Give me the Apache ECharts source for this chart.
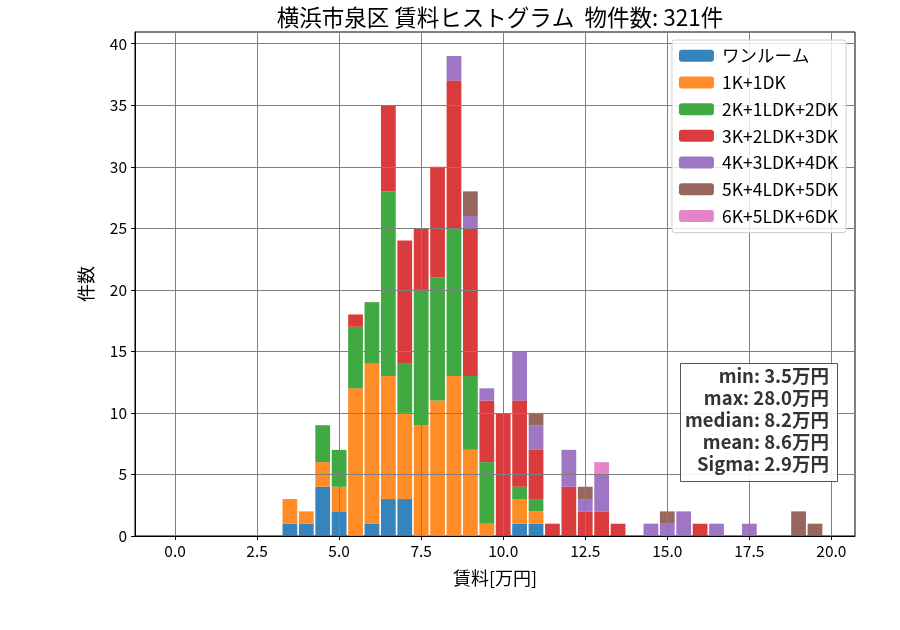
<!DOCTYPE html>
<html>
<head>
<meta charset="utf-8">
<script src="https://cdn.jsdelivr.net/npm/echarts@6/dist/echarts.min.js"></script>
<style>
  html, body { margin: 0; padding: 0; background: #fff; }
  #chart { width: 900px; height: 630px; }
</style>
</head>
<body>
<div id="chart"></div>
<script>
// 賃料の階級（万円）— 0.5刻みの中心値
var binCenters = [3.5, 4.0, 4.5, 5.0, 5.5, 6.0, 6.5, 7.0, 7.5, 8.0, 8.5, 9.0, 9.5, 10.0, 10.5, 11.0,
  11.5, 12.0, 12.5, 13.0, 13.5, 14.0, 14.5, 15.0, 15.5, 16.0, 16.5, 17.0, 17.5, 18.0, 18.5, 19.0, 19.5];

// 間取りごとの件数（binCenters と同じ順番）
var oneRoom = [1, 1, 4, 2, 0, 1, 3, 3, 0, 0, 0, 0, 0, 0, 1, 1, 0, 0, 0, 0, 0, 0, 0, 0, 0, 0, 0, 0, 0, 0, 0, 0, 0];
var k1 = [2, 1, 2, 2, 12, 13, 10, 7, 9, 11, 13, 7, 1, 0, 2, 1, 0, 0, 0, 0, 0, 0, 0, 0, 0, 0, 0, 0, 0, 0, 0, 0, 0];
var k2 = [0, 0, 3, 3, 5, 5, 15, 4, 11, 10, 12, 6, 5, 0, 1, 1, 0, 0, 0, 0, 0, 0, 0, 0, 0, 0, 0, 0, 0, 0, 0, 0, 0];
var k3 = [0, 0, 0, 0, 1, 0, 7, 10, 5, 9, 12, 12, 5, 10, 7, 4, 1, 4, 2, 2, 1, 0, 0, 0, 0, 1, 0, 0, 0, 0, 0, 0, 0];
var k4 = [0, 0, 0, 0, 0, 0, 0, 0, 0, 0, 2, 1, 1, 0, 4, 2, 0, 3, 1, 3, 0, 0, 1, 1, 2, 0, 1, 0, 1, 0, 0, 0, 0];
var k5 = [0, 0, 0, 0, 0, 0, 0, 0, 0, 0, 0, 2, 0, 0, 0, 1, 0, 0, 1, 0, 0, 0, 0, 1, 0, 0, 0, 0, 0, 0, 0, 2, 1];
var k6 = [0, 0, 0, 0, 0, 0, 0, 0, 0, 0, 0, 0, 0, 0, 0, 0, 0, 0, 0, 1, 0, 0, 0, 0, 0, 0, 0, 0, 0, 0, 0, 0, 0];

var seriesNames = ['ワンルーム', '1K+1DK', '2K+1LDK+2DK', '3K+2LDK+3DK', '4K+3LDK+4DK', '5K+4LDK+5DK', '6K+5LDK+6DK'];
var seriesValues = [oneRoom, k1, k2, k3, k4, k5, k6];
var colors = ['#1f77b4', '#ff7f0e', '#2ca02c', '#d62728', '#9467bd', '#8c564b', '#e377c2'];

// 目盛り
var xTicks = [0, 2.5, 5, 7.5, 10, 12.5, 15, 17.5, 20];
var yTicks = [0, 5, 10, 15, 20, 25, 30, 35, 40];

// 統計値
var statLines = ['min: 3.5万円', 'max: 28.0万円', 'median: 8.2万円', 'mean: 8.6万円', 'Sigma: 2.9万円'];
var totalCount = 321;

var FONT = '"Noto Sans CJK JP", "Noto Sans", sans-serif';

var chart = echarts.init(document.getElementById('chart'));

// 件数を先頭次元にして、積み上げが y 方向にかかるようにする
var series = seriesNames.map(function (name, i) {
  return {
    name: name,
    type: 'bar',
    stack: 'total',
    barWidth: '90%',
    encode: { x: 1, y: 0 },
    itemStyle: { color: colors[i], opacity: 0.9 },
    data: binCenters.map(function (x, j) { return [seriesValues[i][j], x]; })
  };
});

// 統計ボックス：枠と右揃えの各行
var statGraphics = [{
  type: 'rect',
  left: 680,
  top: 363,
  z: 100,
  shape: { width: 157, height: 118 },
  style: { fill: 'rgba(255,255,255,0.9)', stroke: '#555', lineWidth: 1 }
}];
statLines.forEach(function (line, i) {
  statGraphics.push({
    type: 'text',
    right: 71,
    top: 367 + i * 21.9,
    z: 101,
    style: { text: line, fill: '#333', font: 'bold 18.5px ' + FONT }
  });
});

var option = {
  animation: false,
  title: {
    text: '横浜市泉区 賃料ヒストグラム  物件数: ' + totalCount + '件',
    left: 495,
    textAlign: 'center',
    top: 1,
    textStyle: { fontFamily: FONT, fontSize: 22.5, fontWeight: 'normal', color: '#000' }
  },
  legend: {
    orient: 'vertical',
    right: 54,
    top: 40,
    padding: [7, 8, 8, 7],
    itemWidth: 35,
    itemHeight: 12,
    itemGap: 9.2,
    backgroundColor: 'rgba(255,255,255,0.8)',
    borderColor: '#cccccc',
    borderWidth: 1,
    borderRadius: 3,
    textStyle: { fontFamily: FONT, fontSize: 17.5, color: '#000', padding: [0, 0, 0, 3] },
    data: seriesNames
  },
  grid: {
    left: 135, right: 45, top: 32, bottom: 94,
    show: true, borderColor: '#000', borderWidth: 1, backgroundColor: 'transparent'
  },
  xAxis: {
    type: 'value',
    min: -1.22,
    max: 20.72,
    z: 3,
    name: '賃料[万円]',
    nameLocation: 'middle',
    nameGap: 33,
    nameTextStyle: { fontFamily: FONT, fontSize: 18, color: '#000' },
    axisLine: { show: true, onZero: false, lineStyle: { color: '#000', width: 1 } },
    axisTick: { show: true, length: 4, lineStyle: { color: '#000' }, customValues: xTicks },
    axisLabel: {
      customValues: xTicks,
      fontFamily: FONT, fontSize: 15.5, color: '#000', margin: 7,
      formatter: function (v) { return v.toFixed(1); }
    },
    splitLine: { show: true, lineStyle: { color: '#808080', width: 1 } }
  },
  yAxis: {
    type: 'value',
    min: 0,
    max: 40.95,
    z: 3,
    name: '件数',
    nameLocation: 'middle',
    nameGap: 40,
    nameTextStyle: { fontFamily: FONT, fontSize: 18, color: '#000' },
    axisLine: { show: true, onZero: false, lineStyle: { color: '#000', width: 1 } },
    axisTick: { show: true, length: 4, lineStyle: { color: '#000' }, customValues: yTicks },
    axisLabel: { customValues: yTicks, fontFamily: FONT, fontSize: 15.5, color: '#000', margin: 8 },
    splitLine: { show: true, lineStyle: { color: '#808080', width: 1 } }
  },
  graphic: statGraphics,
  series: series
};

chart.setOption(option);
</script>
</body>
</html>
